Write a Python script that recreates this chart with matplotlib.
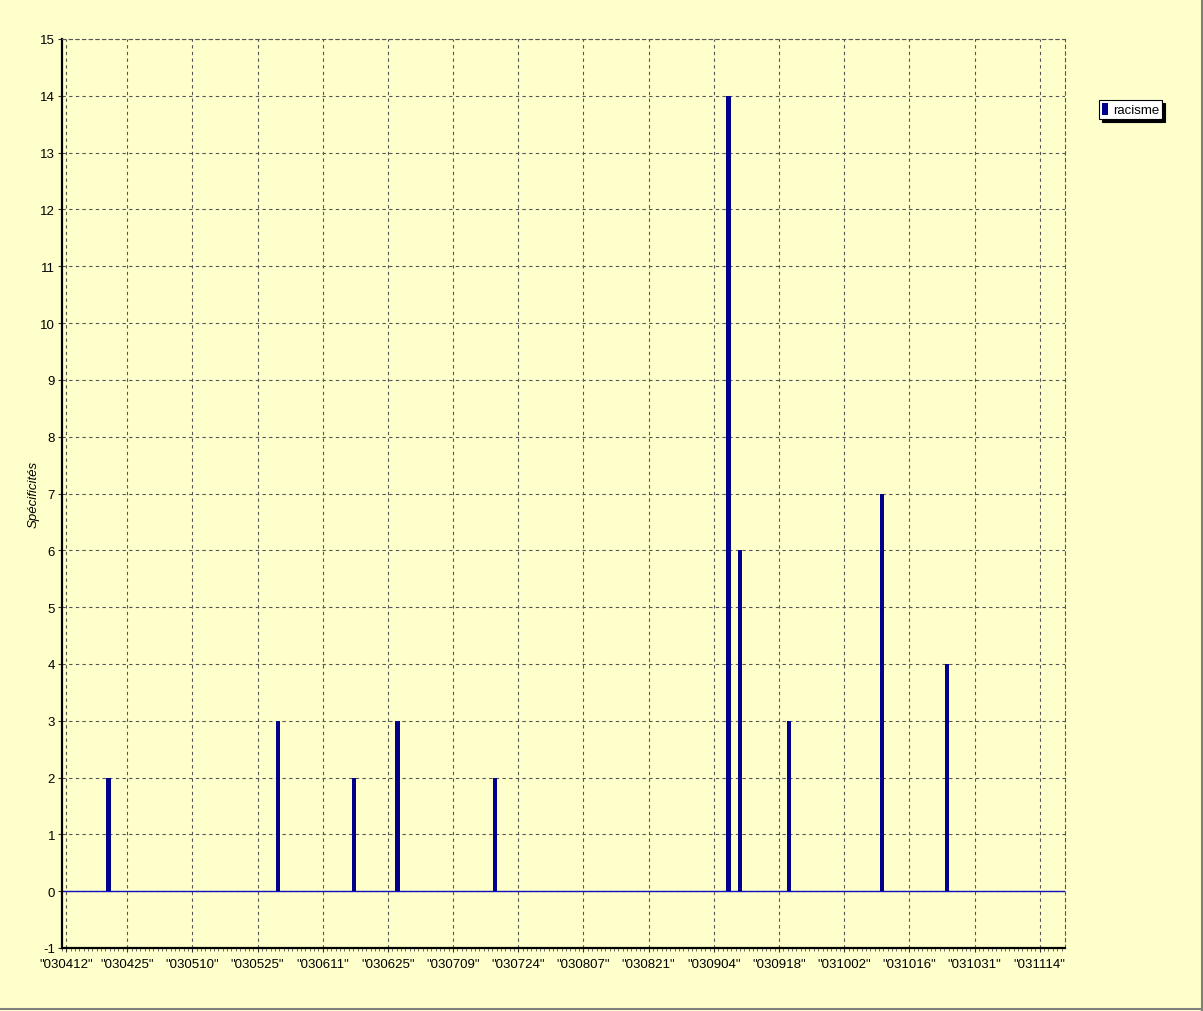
import matplotlib
matplotlib.use("Agg")
import matplotlib.pyplot as plt
from matplotlib.lines import Line2D

# tick labels (one every 15 positions, first one at position 1)
tick_labels = ['"030412"', '"030425"', '"030510"', '"030525"', '"030611"', '"030625"',
               '"030709"', '"030724"', '"030807"', '"030821"', '"030904"', '"030918"',
               '"031002"', '"031016"', '"031031"', '"031114"']
tick_pos = [1] + [i * 15 for i in range(1, len(tick_labels))]

# bars: position (section index) and value
bar_pos = [10.7, 49.7, 67.2, 77.2, 99.7, 153.4, 156.0, 167.3, 188.7, 203.6]
bar_val = [2, 3, 2, 3, 2, 14, 6, 3, 7, 4]

bg = "#FFFFCC"
bar_color = "#00008C"
plt.rcParams['font.family'] = ['Liberation Sans', 'DejaVu Sans']
plt.rcParams['axes.unicode_minus'] = False

fig = plt.figure(figsize=(12.03, 10.12), dpi=100, facecolor=bg)
ax = fig.add_axes([62 / 1203, 1 - 949 / 1012, 1003 / 1203, 909 / 1012])
ax.set_facecolor(bg)

# zero line of the series
ax.axhline(0, color="#1010C0", lw=1.0, zorder=2)
ax.bar(bar_pos, bar_val, width=1.0, color=bar_color, zorder=3, label="racisme")

ax.set_xlim(0, 230.8)
ax.set_ylim(-1, 15)
ax.set_yticks(range(-1, 16))
ax.set_xticks(tick_pos)
ax.set_xticklabels(tick_labels)
ax.set_xticks(range(0, 231), minor=True)
ax.tick_params(axis="both", labelsize=9.5, length=3, width=0.8, color="#333333")
ax.tick_params(axis="x", pad=4)
ax.tick_params(axis="y", pad=2)
ax.tick_params(axis="x", which="minor", length=2, width=0.6, color="#555555")

ax.grid(True, which="major", color="#555555", ls=(0, (3, 3)), lw=0.8, zorder=1)
for s in ["top", "right"]:
    ax.spines[s].set_color("#555555")
    ax.spines[s].set_linestyle((0, (3, 3)))
    ax.spines[s].set_linewidth(0.8)
for s in ["left", "bottom"]:
    ax.spines[s].set_linewidth(1.6)
    ax.spines[s].set_color("black")

ax.set_ylabel("Spécificités", fontsize=9.5, style="italic")
ax.yaxis.set_label_coords(-0.0225, 0.5)

leg = ax.legend(loc="upper left", bbox_to_anchor=(1099 / 1203, 1 - 101 / 1012),
                bbox_transform=fig.transFigure, fontsize=9.5, frameon=True,
                fancybox=False, handlelength=0.5, handleheight=1.1, handletextpad=0.4,
                borderpad=0.2, borderaxespad=0, edgecolor="black",
                shadow={"color": "black", "alpha": 1.0})
leg.get_frame().set_linewidth(0.8)
leg.get_frame().set_facecolor("white")

# window border
fig.add_artist(Line2D([0, 1], [0.002, 0.002], transform=fig.transFigure, color="#808080", lw=1.5))
fig.add_artist(Line2D([0.999, 0.999], [0, 1], transform=fig.transFigure, color="#808080", lw=1.5))

fig.savefig("out.png", dpi=100, facecolor=bg)
